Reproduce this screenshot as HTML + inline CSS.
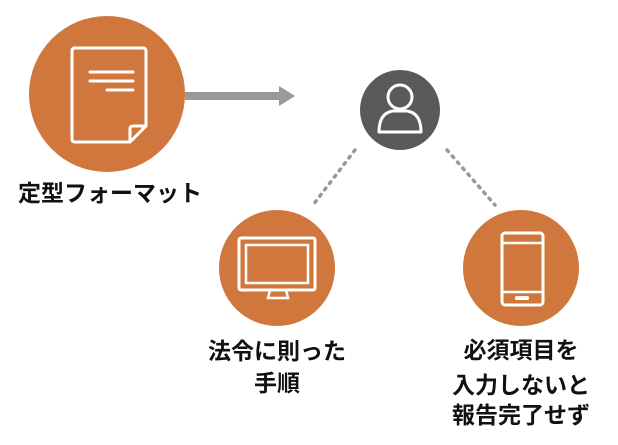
<!DOCTYPE html>
<html><head><meta charset="utf-8"><style>
body{margin:0;background:#fff;width:618px;height:440px;overflow:hidden}
text{font-family:"Liberation Sans","Noto Sans CJK JP",sans-serif;font-size:23px;fill:#111;text-anchor:middle;font-weight:bold}
</style></head><body>
<svg width="618" height="440" viewBox="0 0 618 440">
<circle cx="107" cy="94" r="78" fill="#d0773d"/>
<path d="M73 48 H143 Q146 48 146 51 V126 L130 142 H75 Q72 142 72 139 V51 Q72 48 75 48 Z" fill="none" stroke="#fff" stroke-width="3"/>
<path d="M146 126 H133 Q130 126 130 129 V142" fill="none" stroke="#fff" stroke-width="3"/>
<g stroke="#fff" stroke-width="3" stroke-linecap="round"><line x1="90" y1="72" x2="133" y2="72"/><line x1="90" y1="81" x2="133" y2="81"/><line x1="107" y1="90" x2="133" y2="90"/></g>
<rect x="185" y="92" width="95" height="8" fill="#999"/>
<polygon points="279,86 295,96 279,106" fill="#999"/>
<text x="110" y="201">定型フォーマット</text>
<circle cx="400" cy="110" r="40" fill="#5a5a5a"/>
<circle cx="400" cy="97" r="12" fill="none" stroke="#fff" stroke-width="3"/>
<path d="M379 132 Q379 113 393 111 H407 Q421 113 421 132 Z" fill="none" stroke="#fff" stroke-width="3" stroke-linejoin="round"/>
<g stroke="#999" stroke-width="3.5" stroke-dasharray="2 6" stroke-linecap="round"><line x1="355" y1="150" x2="313" y2="205"/><line x1="447" y1="150" x2="495" y2="205"/></g>
<circle cx="277" cy="268" r="58" fill="#d0773d"/>
<rect x="239" y="238" width="76" height="52" rx="2" fill="none" stroke="#fff" stroke-width="3"/>
<rect x="246" y="245" width="62" height="38" fill="none" stroke="#fff" stroke-width="2.5"/>
<path d="M270 290 L268 298 H288 L286 290" fill="none" stroke="#fff" stroke-width="2.5"/>
<circle cx="521" cy="268" r="58" fill="#d0773d"/>
<rect x="502" y="233" width="41" height="72" rx="3" fill="none" stroke="#fff" stroke-width="3"/>
<line x1="502" y1="243" x2="543" y2="243" stroke="#fff" stroke-width="2.5"/>
<line x1="502" y1="292" x2="543" y2="292" stroke="#fff" stroke-width="2.5"/>
<rect x="515" y="296" width="14" height="4" rx="1.5" fill="#fff"/>
<text x="277" y="359">法令に則った</text>
<text x="277" y="391">手順</text>
<text x="521" y="358">必須項目を</text>
<text x="521" y="393">入力しないと</text>
<text x="521" y="423">報告完了せず</text>
</svg>
</body></html>
